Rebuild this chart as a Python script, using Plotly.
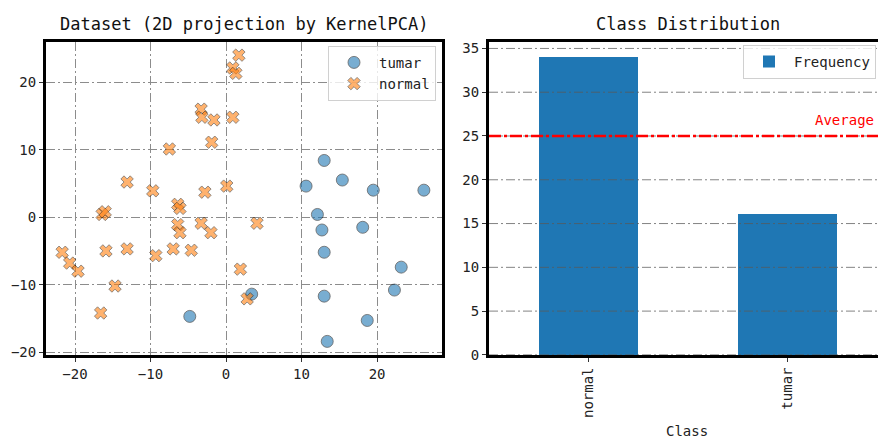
import plotly.graph_objects as go

# ---- data ----
tumar_x = [10.6, 13.0, 15.4, 19.5, 26.2, 12.1, 12.7, 18.1, 13.0, 23.2, 22.3, 13.0, 18.7, 13.4, 3.4, -4.8]
tumar_y = [4.6, 8.4, 5.5, 4.0, 4.0, 0.4, -1.9, -1.5, -5.2, -7.4, -10.8, -11.7, -15.3, -18.4, -11.4, -14.7]

normal_x = [1.7, 0.9, 1.3, -3.3, -3.2, -1.6, 0.9, -1.9, -7.5, -13.1, -9.7, -2.8, 0.1, -6.4, -6.1,
            -16.4, -16.0, -6.4, -6.1, -3.3, -2.0, -21.7, -20.7, -19.6, -15.9, -13.1, -9.3, -7.0,
            -4.6, -14.7, -16.6, 1.9, 2.8, 4.1]
normal_y = [24.0, 22.1, 21.3, 16.0, 14.8, 14.4, 14.8, 11.1, 10.1, 5.2, 3.9, 3.7, 4.6, 1.9, 1.3,
            0.4, 0.8, -1.1, -2.3, -0.9, -2.3, -5.2, -6.8, -8.0, -5.0, -4.7, -5.7, -4.7,
            -4.9, -10.2, -14.2, -7.7, -12.1, -0.9]

classes = ["normal", "tumar"]
frequency = [34, 16]
average = 25

x1_ticks = [-20, -10, 0, 10, 20]
y1_ticks = [-20, -10, 0, 10, 20]
y2_ticks = [0, 5, 10, 15, 20, 25, 30, 35]

W, H = 878, 447
REF_H = 439
FONT = "DejaVu Sans Mono"
GRID = "#8c8c8c"
GDASH = "9px,3px,2px,3px"


def px(x):
    return x / W


def py(y):
    return 1 - y / REF_H


fig = go.Figure()

fig.add_trace(go.Scatter(
    x=tumar_x, y=tumar_y, mode="markers", name="tumar",
    marker=dict(symbol="circle", size=12, color="#1f77b4", opacity=0.6,
                line=dict(color="#000000", width=0.8)),
    xaxis="x", yaxis="y", legend="legend"))
fig.add_trace(go.Scatter(
    x=normal_x, y=normal_y, mode="markers", name="normal",
    marker=dict(symbol="x", size=11, color="#ff7f0e", opacity=0.6,
                line=dict(color="#000000", width=0.7)),
    xaxis="x", yaxis="y", legend="legend"))

fig.add_trace(go.Bar(
    x=classes, y=frequency, name="Frequency", width=0.5,
    marker=dict(color="#1f77b4", line=dict(width=0)),
    xaxis="x2", yaxis="y2", legend="legend2"))

axis_common = dict(
    showline=True, linecolor="black", linewidth=3,
    ticks="outside", ticklen=4, tickwidth=1, tickcolor="#333333",
    tickfont=dict(family=FONT, size=14, color="#222222"),
    zeroline=False,
)

legend_style = dict(bgcolor="rgba(255,255,255,0.8)", bordercolor="#d0d0d0", borderwidth=1,
                    font=dict(family=FONT, size=14, color="#222222"), itemwidth=40)

fig.update_layout(
    width=W, height=H,
    margin=dict(l=0, r=0, t=0, b=0),
    paper_bgcolor="white", plot_bgcolor="white",
    font=dict(family=FONT, size=14, color="#222222"),
    xaxis=dict(domain=[px(46), px(442)], range=[-23.84, 28.6], anchor="y",
               tickvals=x1_ticks, mirror=True,
               showgrid=True, gridcolor=GRID, griddash=GDASH, gridwidth=1,
               **axis_common),
    yaxis=dict(domain=[py(354.5), py(40.5)], range=[-20.4, 25.9], anchor="x",
               tickvals=y1_ticks, mirror=True,
               showgrid=True, gridcolor=GRID, griddash=GDASH, gridwidth=1,
               **axis_common),
    xaxis2=dict(domain=[px(489), 1.0], range=[-0.5, 1.455], anchor="y2",
                type="category", mirror=True, showgrid=False, tickangle=-90,
                **axis_common),
    yaxis2=dict(domain=[py(354.5), py(40.5)], range=[0, 35.7], anchor="x2",
                tickvals=y2_ticks, mirror=False, showgrid=False,
                **axis_common),
    legend=dict(x=px(436), y=py(44), xanchor="right", yanchor="top", **legend_style),
    legend2=dict(x=px(743), y=py(43), xanchor="left", yanchor="top", **legend_style),
    showlegend=True,
    bargap=0,
)

# horizontal grid in bar chart (drawn above bars as in reference)
for t in y2_ticks:
    fig.add_shape(type="line", xref="x2 domain", yref="y2", x0=0, x1=1, y0=t, y1=t,
                  line=dict(color="rgba(90,90,90,0.75)", width=1, dash=GDASH), layer="above")

# average line
fig.add_shape(type="line", xref="x2 domain", yref="y2", x0=0, x1=1, y0=average, y1=average,
              line=dict(color="red", width=2.7, dash="12px,3px,3px,3px"), layer="above")

fig.add_annotation(text="Average", xref="paper", yref="y2", x=px(876), y=average,
                   xanchor="right", yanchor="bottom", yshift=6, showarrow=False,
                   font=dict(family=FONT, size=14, color="red"))

# titles
fig.add_annotation(text="Dataset (2D projection by KernelPCA)", xref="paper", yref="paper",
                   x=px(244), y=py(22), xanchor="center", yanchor="middle", showarrow=False,
                   font=dict(family=FONT, size=17, color="#111111"))
fig.add_annotation(text="Class Distribution", xref="paper", yref="paper",
                   x=px(688), y=py(22), xanchor="center", yanchor="middle", showarrow=False,
                   font=dict(family=FONT, size=17, color="#111111"))
fig.add_annotation(text="Class", xref="paper", yref="paper",
                   x=px(687), y=py(431), xanchor="center", yanchor="middle", showarrow=False,
                   font=dict(family=FONT, size=14, color="#222222"))

page_fix = (
    "document.documentElement.style.margin='0';"
    "document.documentElement.style.overflow='hidden';"
    "document.body.style.margin='0';"
    "document.body.style.overflow='hidden';"
)

fig.write_html("out.html", config={"displayModeBar": False}, post_script=page_fix)
